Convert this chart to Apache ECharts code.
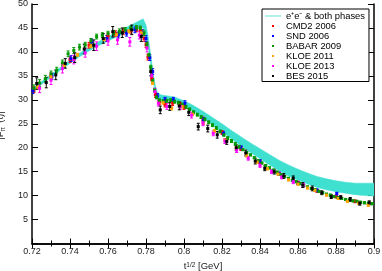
<!DOCTYPE html>
<html><head><meta charset="utf-8">
<script src="https://cdn.jsdelivr.net/npm/echarts@6/dist/echarts.min.js"></script>
<style>html,body{margin:0;padding:0;background:#fff}#c{width:382px;height:271px}</style>
</head><body><div id="c"></div>
<script>
// ---- theory band (e+e- & both phases) ----
const bandT    = [0.720,0.725,0.730,0.735,0.740,0.745,0.750,0.755,0.760,0.765,0.770,0.774,0.777,0.7785,0.780,0.781,0.782,0.783,0.784,0.785,0.786,0.788,0.790,0.795,0.800,0.805,0.810,0.815,0.820,0.825,0.830,0.835,0.840,0.845,0.850,0.855,0.860,0.865,0.870,0.875,0.880,0.885,0.890,0.895,0.900];
const bandLow  = [31.7,33.2,34.7,36.2,37.6,39.0,40.2,41.3,42.3,43.2,44.0,44.6,45.0,45.0,43.6,41.5,38.8,36.0,33.4,31.6,30.6,30.0,29.9,29.7,28.8,27.6,26.3,24.8,23.3,21.8,20.4,19.0,17.7,16.4,15.2,14.1,13.2,12.4,11.7,11.2,10.8,10.5,10.2,10.0,9.9];
const bandHigh = [32.3,33.8,35.3,36.8,38.3,39.7,41.0,42.1,43.2,44.2,45.2,46.0,46.6,46.9,45.6,43.5,40.8,37.8,35.0,32.8,31.6,31.0,30.9,30.6,29.8,28.8,27.6,26.3,25.0,23.6,22.3,21.0,19.8,18.6,17.4,16.4,15.5,14.7,14.0,13.5,13.1,12.8,12.6,12.6,12.6];

// ---- CMD2 2006 ----
const cmd2T = [0.721,0.730,0.740,0.750,0.760,0.764,0.768,0.772,0.775,0.777,0.778,0.779,0.780,0.781,0.783,0.785,0.787,0.790,0.794,0.798,0.800,0.810,0.820,0.830,0.840,0.850,0.860,0.870,0.880,0.890];
const cmd2F = [32.1,35.0,38.4,41.4,43.3,43.8,44.2,44.5,44.8,44.6,44.0,42.8,41.5,38.9,34.5,31.0,29.5,29.0,29.3,29.0,28.5,25.9,23.2,19.8,17.0,14.6,12.7,11.0,9.8,8.8];
const cmd2E = [0.6,0.6,0.6,0.6,0.6,0.6,0.6,0.6,0.6,0.6,0.6,0.6,0.6,0.6,0.5,0.5,0.5,0.5,0.5,0.5,0.5,0.5,0.4,0.4,0.4,0.3,0.3,0.3,0.3,0.3];

// ---- SND 2006 ----
const sndT = [0.7205,0.7305,0.7405,0.7514,0.7593,0.7654,0.7698,0.7742,0.7780,0.7800,0.7820,0.7835,0.7860,0.7900,0.7944,0.8005,0.8102,0.8207,0.8300,0.8400,0.8500,0.8600,0.8700,0.8804];
const sndF = [31.9,34.9,38.6,42.1,42.8,43.5,43.9,44.6,44.0,42.8,38.8,35.9,30.8,30.0,30.0,29.3,25.8,23.0,20.0,17.1,14.6,12.6,11.1,10.4];
const sndE = [0.6,0.6,0.6,0.6,0.6,0.6,0.6,0.6,0.6,0.6,0.6,0.6,0.5,0.5,0.5,0.5,0.5,0.4,0.4,0.4,0.3,0.3,0.3,0.3];

// ---- BABAR 2009 ----
const babarT = [0.721,0.724,0.727,0.730,0.733,0.736,0.739,0.742,0.745,0.748,0.751,0.754,0.757,0.760,0.763,0.766,0.769,0.772,0.775,0.777,0.779,0.7805,0.7815,0.7825,0.7835,0.7845,0.7855,0.787,0.789,0.791,0.793,0.795,0.797,0.799,0.801,0.803,0.805,0.807,0.809,0.811,0.813,0.815,0.817,0.819,0.821,0.823,0.825,0.827,0.829,0.831,0.833,0.835,0.837,0.839,0.841,0.843,0.845,0.847,0.849,0.851,0.853,0.855,0.857,0.859,0.861,0.863,0.865,0.867,0.869,0.871,0.873,0.875,0.877,0.879,0.881,0.883,0.885,0.887,0.889,0.891,0.893,0.895,0.897,0.899];
const babarF = [32.4,33.5,34.4,35.4,36.2,37.7,39.6,40.3,41.0,41.5,42.3,43.2,43.5,43.8,44.0,44.3,44.6,44.9,45.0,44.9,43.9,41.5,39.3,36.8,34.0,32.0,30.6,29.9,29.7,29.8,29.9,29.6,29.4,29.0,28.5,28.0,27.4,26.9,26.4,25.9,25.3,24.7,24.1,23.4,22.7,22.0,21.4,20.8,20.2,19.6,19.0,18.5,17.9,17.3,16.8,16.3,15.8,15.3,14.9,14.4,14.0,13.6,13.2,12.9,12.5,12.1,11.8,11.5,11.2,10.9,10.6,10.3,10.1,9.8,9.6,9.4,9.2,9.1,8.9,8.8,8.6,8.5,8.4,8.3];
const babarE = [0.7,0.7,0.7,0.6,0.6,0.6,0.6,0.6,0.6,0.5,0.5,0.5,0.5,0.5,0.5,0.5,0.5,0.5,0.5,0.5,0.5,0.5,0.4,0.4,0.4,0.4,0.4,0.3,0.3,0.3,0.3,0.3,0.3,0.3,0.3,0.3,0.3,0.3,0.3,0.3,0.3,0.3,0.3,0.3,0.3,0.3,0.3,0.3,0.3,0.2,0.2,0.2,0.2,0.2,0.2,0.2,0.2,0.2,0.2,0.2,0.2,0.2,0.2,0.2,0.2,0.2,0.2,0.2,0.2,0.2,0.2,0.2,0.2,0.2,0.2,0.2,0.2,0.2,0.2,0.2,0.2,0.2,0.2,0.2];

// ---- KLOE 2011 ----
const kloe11T = [0.7230,0.7300,0.7370,0.7440,0.7510,0.7580,0.7645,0.7710,0.7775,0.7835,0.7890,0.7935,0.7990,0.8045,0.8102,0.8160,0.8216,0.8275,0.8330,0.8385,0.8440,0.8495,0.8550,0.8600,0.8650,0.8689,0.8750,0.8812,0.8860,0.8920,0.8970];
const kloe11F = [32.6,34.8,37.2,39.4,41.2,42.6,43.6,44.3,44.0,33.5,29.4,28.2,28.6,27.0,25.1,23.5,21.6,19.9,18.3,17.0,15.6,14.5,13.3,12.4,11.6,11.1,10.1,9.4,8.8,8.4,8.0];
const kloe11E = [0.3,0.3,0.3,0.3,0.3,0.3,0.3,0.3,0.3,0.3,0.3,0.3,0.3,0.3,0.3,0.3,0.2,0.2,0.2,0.2,0.2,0.2,0.2,0.2,0.2,0.2,0.2,0.2,0.2,0.2,0.2];

// ---- KLOE 2013 ----
const kloe13T = [0.7240,0.7300,0.7360,0.7420,0.7480,0.7540,0.7600,0.7650,0.7715,0.7765,0.7805,0.7830,0.7847,0.7865,0.7910,0.7980,0.8040,0.8100,0.8154,0.8215,0.8277,0.8338,0.8400,0.8461,0.8514,0.8575,0.8628];
const kloe13F = [32.4,34.1,36.5,38.4,39.8,41.2,42.3,42.5,42.1,43.5,40.8,35.0,31.7,29.3,28.6,28.6,26.8,25.1,23.0,21.4,19.5,17.8,16.3,15.0,13.9,12.9,12.2];
const kloe13E = [0.9,0.9,0.9,0.9,0.9,0.9,0.9,0.9,0.9,0.8,0.8,0.7,0.7,0.6,0.6,0.6,0.6,0.5,0.5,0.5,0.5,0.4,0.4,0.4,0.4,0.4,0.4];

// ---- BES 2015 ----
const besT = [0.7225,0.7275,0.7325,0.7375,0.7425,0.7475,0.7525,0.7575,0.7625,0.7675,0.7725,0.7775,0.7825,0.7875,0.7925,0.7975,0.8025,0.8075,0.8125,0.8175,0.8225,0.8275,0.8325,0.8375,0.8425,0.8475,0.8525,0.8575,0.8625,0.8675,0.8725,0.8775,0.8825,0.8875,0.8925,0.8975];
const besF = [33.4,33.6,35.2,37.6,38.8,40.6,41.4,42.8,44.2,44.0,44.6,43.2,35.9,27.9,28.6,28.7,27.4,24.4,24.0,22.7,21.3,20.0,18.9,17.2,15.7,15.0,14.1,13.6,12.2,11.5,10.6,9.8,9.6,9.2,8.4,8.5];
const besE = [1.2,1.1,1.0,1.0,1.0,1.0,1.1,1.0,1.1,1.0,1.0,1.0,0.9,0.8,0.8,0.8,0.7,0.7,0.7,0.7,0.6,0.6,0.6,0.6,0.5,0.5,0.5,0.5,0.5,0.5,0.4,0.4,0.4,0.4,0.4,0.4];

const xTicks = {min:0.72, max:0.9, interval:0.02};
const yTicks = {min:0, max:50, interval:5};
const bandName = 'e\u207Ae\u207B & both phases';

const datasets = [
  {name:'CMD2 2006', t:cmd2T, f:cmd2F, e:cmd2E, color:'#ff0000'},
  {name:'SND 2006', t:sndT, f:sndF, e:sndE, color:'#0000ff'},
  {name:'BABAR 2009', t:babarT, f:babarF, e:babarE, color:'#009a00'},
  {name:'KLOE 2011', t:kloe11T, f:kloe11F, e:kloe11E, color:'#ffa500'},
  {name:'KLOE 2013', t:kloe13T, f:kloe13F, e:kloe13E, color:'#ff00ff'},
  {name:'BES 2015', t:besT, f:besF, e:besE, color:'#000000'}
];

const FONT = '"Liberation Sans", Arial, Helvetica, sans-serif';
const chart = echarts.init(document.getElementById('c'), null, {renderer:'canvas'});

const series = [
  {type:'custom', name:bandName, data: bandT.map((x,i)=>[x,bandLow[i],bandHigh[i]]),
   encode:{x:0, y:[1,2]}, itemStyle:{color:'#b2f0ec'}, z:1, animation:false, clip:true, silent:true,
   renderItem:(params, api)=>{
     if (params.dataIndex !== 0) return null;
     const pts = [];
     for (let i=0;i<bandT.length;i++) pts.push(api.coord([bandT[i], bandHigh[i]]));
     for (let i=bandT.length-1;i>=0;i--) pts.push(api.coord([bandT[i], bandLow[i]]));
     return {type:'polygon', shape:{points:pts}, style:{fill:'#40e0d0', stroke:'#40e0d0', lineWidth:0.5}};
   }}
];
datasets.forEach(d=>{
  series.push({type:'scatter', name:d.name, data:d.t.map((x,i)=>[x,d.f[i]]), symbol:'rect', symbolSize:3,
    itemStyle:{color:d.color, opacity:1}, z:4, animation:false, clip:true});
});
datasets.forEach(d=>{
  series.push({type:'custom', name:d.name, data:d.t.map((x,i)=>[x,d.f[i],d.e[i]]), z:3, animation:false, clip:true,
    encode:{x:0,y:1},
    renderItem:(params, api)=>{
      const x=api.value(0), y=api.value(1), e=api.value(2);
      const a=api.coord([x,y+e]), b=api.coord([x,y-e]);
      const w=1.5, st={stroke:d.color, lineWidth:1};
      return {type:'group', children:[
        {type:'line', shape:{x1:a[0],y1:a[1],x2:b[0],y2:b[1]}, style:st},
        {type:'line', shape:{x1:a[0]-w,y1:a[1],x2:a[0]+w,y2:a[1]}, style:st},
        {type:'line', shape:{x1:b[0]-w,y1:b[1],x2:b[0]+w,y2:b[1]}, style:st}
      ]};
    }
  });
});

const axisLineStyle = {show:true, lineStyle:{color:'#000', width:1.5}};
chart.setOption({
  animation:false,
  backgroundColor:'#fff',
  textStyle:{fontFamily:FONT},
  grid:{left:32, right:8, top:4, bottom:27.5, containLabel:false, outerBoundsMode:'none'},
  legend:{
    orient:'vertical', left:262, top:9, itemWidth:16, itemHeight:2, itemGap:1,
    symbolKeepAspect:true,
    padding:[2.5,4,1,3], backgroundColor:'#fff', borderColor:'#000', borderWidth:1, borderRadius:0,
    textStyle:{fontFamily:FONT, fontSize:9.4, color:'#000'},
    selectedMode:false,
    data:[{name:bandName, icon:'path://M0,0h16v2h-16z', itemStyle:{color:'#b2f0ec'}}]
      .concat(datasets.map(d=>({name:d.name, icon:'path://M0,0h2v2h-2z', symbolKeepAspect:true, itemStyle:{color:d.color}})))
  },
  xAxis:[
    {type:'value', min:xTicks.min, max:xTicks.max, interval:xTicks.interval, position:'bottom',
     axisLine:axisLineStyle, axisTick:{show:true, inside:true, length:5, lineStyle:{color:'#000', width:1}},
     minorTick:{show:true, splitNumber:2, length:3, lineStyle:{color:'#000', width:1}},
     splitLine:{show:false},
     axisLabel:{fontFamily:FONT, fontSize:9, color:'#222', margin:4},
     name:'t{s|1/2} [GeV]', nameLocation:'middle', nameGap:17,
     nameTextStyle:{fontFamily:FONT, fontSize:9.5, color:'#222', rich:{s:{fontSize:6.5, verticalAlign:'top', lineHeight:8, fontFamily:FONT, color:'#222'}}}},
    {type:'value', min:xTicks.min, max:xTicks.max, interval:xTicks.interval, position:'top',
     axisLine:axisLineStyle, axisTick:{show:true, inside:true, length:5, lineStyle:{color:'#000', width:1}},
     minorTick:{show:true, splitNumber:2, length:3, lineStyle:{color:'#000', width:1}},
     splitLine:{show:false}, axisLabel:{show:false}}
  ],
  yAxis:[
    {type:'value', min:yTicks.min, max:yTicks.max, interval:yTicks.interval, position:'left',
     axisLine:axisLineStyle, axisTick:{show:true, inside:true, length:6, lineStyle:{color:'#000', width:1}},
     splitLine:{show:false},
     axisLabel:{fontFamily:FONT, fontSize:9, color:'#222', margin:4, formatter:v=> v===0 ? '' : String(v)},
     name:'|F{sub|π}{sup|V}(t)|{sup|2}', nameLocation:'middle', nameGap:18, nameRotate:90,
     nameTextStyle:{fontFamily:FONT, fontSize:9.5, color:'#222', lineHeight:14,
       rich:{sub:{fontSize:6.5, verticalAlign:'bottom', lineHeight:6, fontFamily:FONT, color:'#222'},
             sup:{fontSize:6.5, verticalAlign:'top', lineHeight:6, fontFamily:FONT, color:'#222'}}}},
    {type:'value', min:yTicks.min, max:yTicks.max, interval:yTicks.interval, position:'right',
     axisLine:axisLineStyle, axisTick:{show:true, inside:true, length:6, lineStyle:{color:'#000', width:1}},
     splitLine:{show:false}, axisLabel:{show:false}}
  ],
  series: series
});
</script></body></html>
